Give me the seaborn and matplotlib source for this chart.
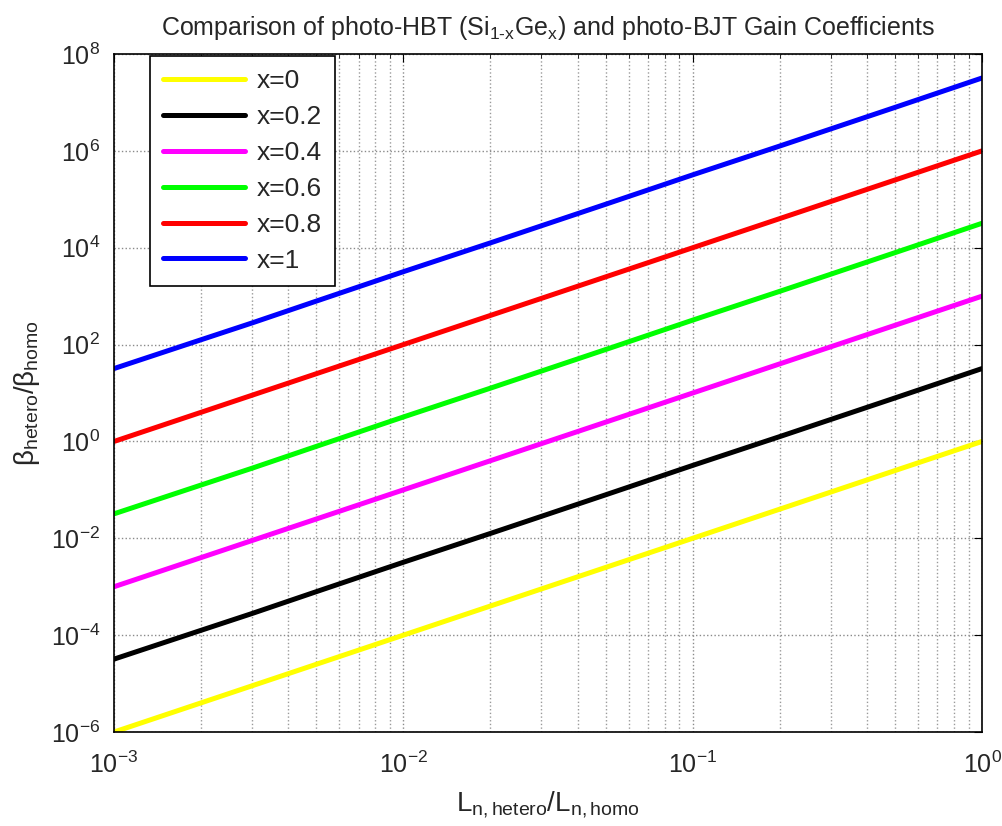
import pandas as pd
import matplotlib
matplotlib.use("Agg")
import matplotlib.pyplot as plt
import seaborn as sns
from matplotlib.ticker import LogLocator, NullLocator

# Valores (escala log-log)
ratio_L = [1e-3, 2e-3, 3e-3, 5e-3, 1e-2, 2e-2, 5e-2, 1e-1, 2e-1, 5e-1, 1.0]
beta_x0 = [1e-6, 4e-6, 9e-6, 2.5e-5, 1e-4, 4e-4, 2.5e-3, 1e-2, 4e-2, 0.25, 1.0]
beta_x02 = [3.2e-5, 1.26e-4, 2.8e-4, 7.9e-4, 3.2e-3, 1.26e-2, 7.9e-2, 0.32, 1.26, 7.9, 32]
beta_x04 = [1e-3, 4e-3, 9e-3, 2.5e-2, 0.1, 0.4, 2.5, 10, 40, 250, 1000]
beta_x06 = [3.2e-2, 0.126, 0.28, 0.79, 3.2, 12.6, 79, 320, 1260, 7900, 32000]
beta_x08 = [1, 4, 9, 25, 100, 400, 2500, 1e4, 4e4, 2.5e5, 1e6]
beta_x1 = [32, 126, 280, 790, 3200, 12600, 79000, 3.2e5, 1.26e6, 7.9e6, 3.2e7]

series = ["x=0", "x=0.2", "x=0.4", "x=0.6", "x=0.8", "x=1"]
valores = [beta_x0, beta_x02, beta_x04, beta_x06, beta_x08, beta_x1]
colores = ["#ffff00", "#000000", "#ff00ff", "#00ff00", "#ff0000", "#0000ff"]

# Formato largo
df = pd.concat(
    [pd.DataFrame({"L": ratio_L, "beta": v, "serie": s}) for s, v in zip(series, valores)],
    ignore_index=True,
)

sns.set_style("white")
plt.rcParams["font.family"] = ["Liberation Sans", "DejaVu Sans"]
plt.rcParams["mathtext.fontset"] = "custom"
plt.rcParams["mathtext.rm"] = "Liberation Sans"
plt.rcParams["mathtext.it"] = "Liberation Sans:italic"
plt.rcParams["mathtext.default"] = "regular"

fig = plt.figure(figsize=(10.03, 8.26), dpi=100)
ax = fig.add_axes([0.1137, 0.1138, 0.8654, 0.8208])

sns.lineplot(data=df, x="L", y="beta", hue="serie", hue_order=series,
             palette=colores, linewidth=3.6, ax=ax)

ax.set_xscale("log")
ax.set_yscale("log")
ax.set_xlim(1e-3, 1)
ax.set_ylim(1e-6, 1e8)
ax.set_yticks([1e-6, 1e-4, 1e-2, 1e0, 1e2, 1e4, 1e6, 1e8])
ax.yaxis.set_minor_locator(NullLocator())
ax.xaxis.set_minor_locator(LogLocator(base=10, subs=range(2, 10)))

ax.grid(True, which="major", linestyle=":", color="#8a8a8a", linewidth=1.0)
ax.grid(True, which="minor", axis="x", linestyle=":", color="#9a9a9a", linewidth=1.0)
ax.tick_params(which="both", direction="in", top=True, right=True, labelsize=18,
               color="black")
ax.tick_params(which="major", length=6)
ax.tick_params(which="minor", length=3)
ax.tick_params(axis="x", pad=14)
ax.tick_params(axis="y", pad=10)
for sp in ax.spines.values():
    sp.set_color("black")
    sp.set_linewidth(1.2)

ax.set_title(r"Comparison of photo-HBT (Si$_{1\text{-}x}$Ge$_x$) and photo-BJT Gain Coefficients",
             fontsize=18, pad=14)
ax.set_xlabel(r"L$_{n,hetero}$/L$_{n,homo}$", fontsize=20, labelpad=8)
ax.set_ylabel(r"$\beta_{hetero}$/$\beta_{homo}$", fontsize=20, labelpad=6)

leg = ax.legend(loc="upper left", bbox_to_anchor=(0.0415, 0.997), borderaxespad=0,
                fontsize=19, handlelength=3.1, handletextpad=0.45, labelspacing=0.45,
                borderpad=0.5, fancybox=False, framealpha=1, edgecolor="black")
leg.get_frame().set_linewidth(1.2)

fig.savefig("out.png", dpi=100)
